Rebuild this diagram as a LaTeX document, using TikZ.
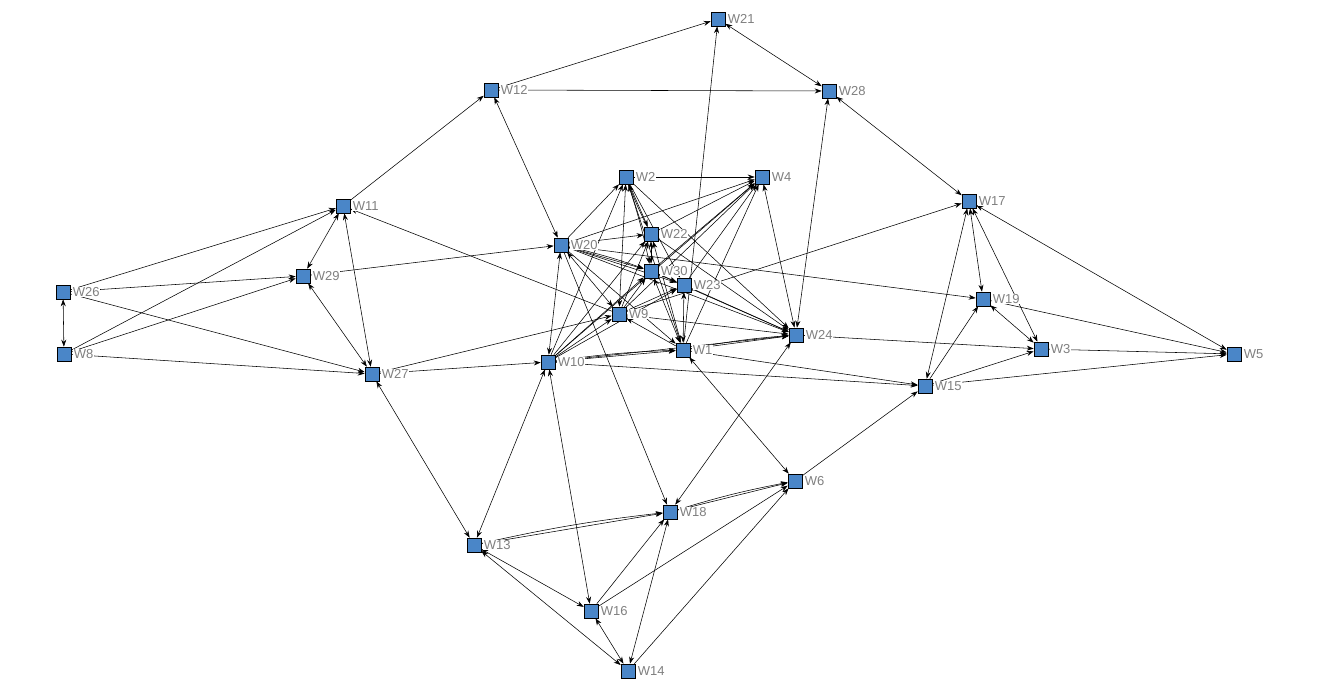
\documentclass[tikz,border=0pt]{standalone}
\usepackage{fontspec}
\setmainfont{Liberation Sans}
\usetikzlibrary{arrows.meta}
\pgfdeclarelayer{bg}
\pgfsetlayers{bg,main}
\definecolor{nodeblue}{RGB}{74,134,200}
\definecolor{labgray}{RGB}{128,128,128}
\tikzset{
  >={Stealth[length=7pt,width=5pt]},
  nd/.style={rectangle,draw=black,line width=0.6pt,fill=nodeblue,minimum size=14pt,inner sep=0pt},
  lab/.style={anchor=west,text=labgray,fill=white,inner sep=0.8pt,font=\fontsize{13}{14}\selectfont},
  edge/.style={line width=0.55pt,black}
}
\begin{document}
\begin{tikzpicture}[x=1pt,y=-1pt]
\useasboundingbox (0,0) rectangle (1318,688);
\foreach \n/\x/\y in {W21/718/19, W12/491/90, W28/829/91, W2/626/177, W4/762/177,
  W11/343/206, W17/969/201, W20/561/245, W22/651/234, W30/651/271, W23/684/285,
  W29/303/276, W26/63/292, W19/983/299, W9/619/314, W24/796/335, W1/683/350,
  W8/64/354, W10/548/362, W3/1041/349, W5/1234/354, W27/372/374, W15/925/386,
  W6/795/481, W18/670/512, W13/474/545, W16/591/611, W14/628/671}{
  \node[nd] (\n) at (\x,\y) {};
  \node[lab] (l\n) at ([xshift=1.5pt]\n.east) {\n};
}
\begin{pgfonlayer}{bg}
\fill[white] (0,0) rectangle (1318,688);
% one-way connectors
\foreach \a/\b in {W12/W21, W12/W28, W1/W21, W11/W12, W26/W11, W8/W11, W26/W29, W8/W29,
  W26/W27, W8/W27, W29/W20, W9/W11, W27/W9, W27/W10, W10/W15, W1/W15, W20/W18, W6/W15,
  W13/W18, W18/W6, W16/W18, W16/W6, W14/W6, W9/W17, W20/W19, W15/W19, W19/W5, W24/W3,
  W3/W5, W15/W3, W15/W5,
  W2/W4, W20/W2, W10/W2, W2/W23, W2/W24, W20/W4, W22/W4, W30/W4, W23/W4, W9/W4, W10/W4,
  W1/W4, W20/W22, W20/W30, W20/W23, W20/W24, W20/W1, W9/W22, W1/W22, W22/W24, W10/W22,
  W30/W23, W9/W30, W10/W30, W30/W24, W9/W23, W23/W24, W10/W23, W1/W9, W9/W24, W10/W9,
  W1/W24, W10/W1, W10/W24, W2/W22}
  \draw[edge,->] (\a) -- (\b);
% second parallel lines
\foreach \a/\b in {W13/W18, W18/W6, W1/W24, W10/W1, W22/W2, W2/W30, W20/W30}
  \draw[edge,->] (\a) to[bend left=3] (\b);
% two-way connectors
\foreach \a/\b in {W21/W28, W24/W28, W28/W17, W20/W12, W26/W8, W11/W29, W11/W27,
  W29/W27, W27/W13, W10/W13, W10/W16, W1/W6, W18/W24, W13/W16, W13/W14, W16/W14,
  W18/W14, W17/W15, W17/W19, W17/W3, W17/W5, W19/W3,
  W2/W9, W2/W1, W4/W24, W20/W9, W20/W10, W22/W30, W30/W1, W23/W1}
  \draw[edge,<->] (\a) -- (\b);
\end{pgfonlayer}
\end{tikzpicture}
\end{document}
